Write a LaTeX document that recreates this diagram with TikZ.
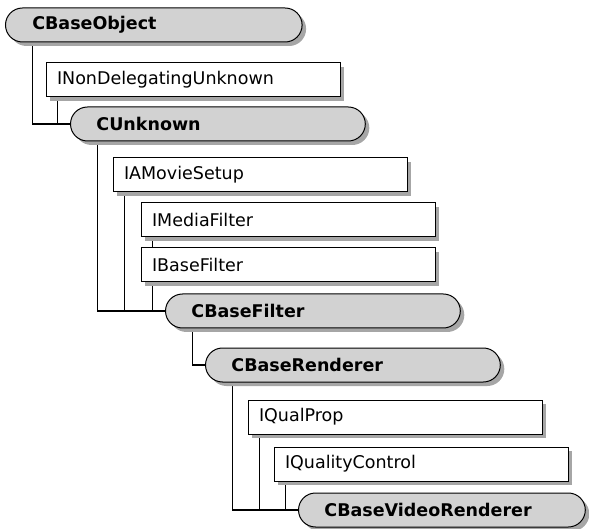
\documentclass[tikz,border=0pt]{standalone}
\usepackage{fontspec}
\setmainfont{DejaVu Sans}
\usepackage{tikz}
\usepackage{xcolor}
\usetikzlibrary{positioning,shapes.misc,shadows,backgrounds}

\begin{document}
\begin{tikzpicture}[
    iface/.style={draw,line width=1pt,fill=white,minimum height=34pt,inner xsep=11pt,text width=272pt,align=left,font=\fontsize{17.5pt}{21pt}\selectfont,drop shadow={shadow xshift=4pt,shadow yshift=-4pt,fill=gray!70,opacity=1}},
    cls/.style={rounded rectangle,draw,line width=1pt,fill=gray!35,minimum height=34pt,inner xsep=24.5pt,text width=243pt,align=left,font=\bfseries\fontsize{17.5pt}{21pt}\selectfont,drop shadow={shadow xshift=4pt,shadow yshift=-4pt,fill=gray!70,opacity=1}},
    link/.style={line width=1.2pt}]
    \useasboundingbox (0,0) rectangle (589pt,-529pt);
    \node[cls,anchor=west] (obj) at (5pt,-25pt) {CBaseObject};
    \node[iface,below right=20pt and 23pt of obj.south west] (ndu) {INonDelegatingUnknown};
    \node[cls,below right=9pt and 42pt of ndu.south west] (unk) {CUnknown};
    \node[iface,below right=16pt and 25pt of unk.south west] (ams) {IAMovieSetup};
    \node[iface,below right=10pt and 28pt of ams.south west] (imf) {IMediaFilter};
    \node[iface,below right=10pt and 0pt of imf.south west] (ibf) {IBaseFilter};
    \node[cls,below right=11pt and 42pt of ibf.south west] (flt) {CBaseFilter};
    \node[cls,below right=19pt and 40pt of flt.south west] (rnd) {CBaseRenderer};
    \node[iface,below right=17pt and 25pt of rnd.south west] (iqp) {IQualProp};
    \node[iface,below right=12pt and 26pt of iqp.south west] (iqc) {IQualityControl};
    \node[cls,text width=235pt,below right=11pt and 42pt of iqc.south west] (vid) {CBaseVideoRenderer};
    \begin{scope}[on background layer]
    \draw[link] ([xshift=10pt]obj.south west) |- (unk.west);
    \draw[link] ([xshift=12pt]ndu.south west) |- (unk.west);
    \draw[link] ([xshift=10pt]unk.south west) |- (flt.west);
    \draw[link] ([xshift=12pt]ams.south west) |- (flt.west);
    \draw[link] ([xshift=12pt]imf.south west) |- (flt.west);
    \draw[link] ([xshift=12pt]ibf.south west) |- (flt.west);
    \draw[link] ([xshift=10pt]flt.south west) |- (rnd.west);
    \draw[link] ([xshift=10pt]rnd.south west) |- (vid.west);
    \draw[link] ([xshift=12pt]iqp.south west) |- (vid.west);
    \draw[link] ([xshift=12pt]iqc.south west) |- (vid.west);
    \end{scope}
  \end{tikzpicture}
\end{document}
